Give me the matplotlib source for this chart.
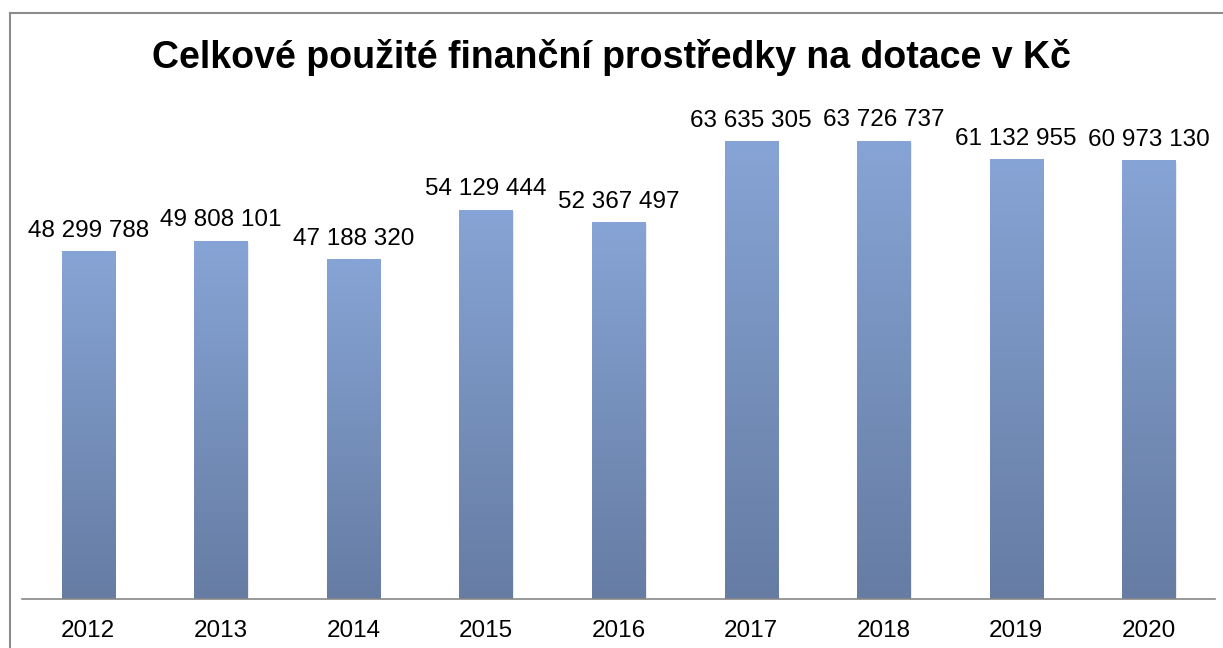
import numpy as np
import matplotlib.pyplot as plt
from matplotlib.colors import LinearSegmentedColormap
from matplotlib.lines import Line2D

plt.rcParams['font.family'] = ['Liberation Sans', 'DejaVu Sans']

# Data
years = ['2012', '2013', '2014', '2015', '2016', '2017', '2018', '2019', '2020']
amounts = [48299788, 49808101, 47188320, 54129444, 52367497,
           63635305, 63726737, 61132955, 60973130]

fig = plt.figure(figsize=(12.23, 6.48), dpi=100)
ax = fig.add_axes([22 / 1223, 49 / 648, 1193 / 1223, 503 / 648])

cmap = LinearSegmentedColormap.from_list('bar', ['#667ca3', '#86a4d5'])
grad = np.linspace(0, 1, 256).reshape(-1, 1)
width = 0.4

x = np.arange(len(years))
for i, v in enumerate(amounts):
    # subtle shadow
    ax.bar(i + 0.012, v, width, bottom=-v * 0.004, color='#000000', alpha=0.08,
           zorder=1)
    ax.imshow(grad, cmap=cmap, aspect='auto', origin='lower',
              extent=(i - width / 2, i + width / 2, 0, v), zorder=2)
    label = f"{v:,}".replace(',', ' ')
    ax.annotate(label, (i, v), xytext=(0, 7), textcoords='offset points',
                ha='center', va='bottom', fontsize=17.5)

ax.set_xlim(-0.5, len(years) - 0.5)
ax.set_ylim(0, 70000000)
ax.set_xticks(x)
ax.set_xticklabels(years, fontsize=17.5)
ax.tick_params(axis='x', length=0, pad=15)
ax.set_yticks([])
for s in ['top', 'right', 'left']:
    ax.spines[s].set_visible(False)
ax.spines['bottom'].set_color('#888888')
ax.spines['bottom'].set_linewidth(1.2)

fig.text(0.5, 1 - 57 / 648, 'Celkové použité finanční prostředky na dotace v Kč',
         ha='center', va='center', fontsize=27, fontweight='bold')

# outer chart border (left and top edges visible)
fig.add_artist(Line2D([10.5 / 1223, 10.5 / 1223], [0, 1 - 13 / 648],
                      transform=fig.transFigure, color='#8c8c8c', lw=1.5))
fig.add_artist(Line2D([10.5 / 1223, 1], [1 - 13 / 648, 1 - 13 / 648],
                      transform=fig.transFigure, color='#8c8c8c', lw=1.5))

fig.savefig('out.png', dpi=100)
